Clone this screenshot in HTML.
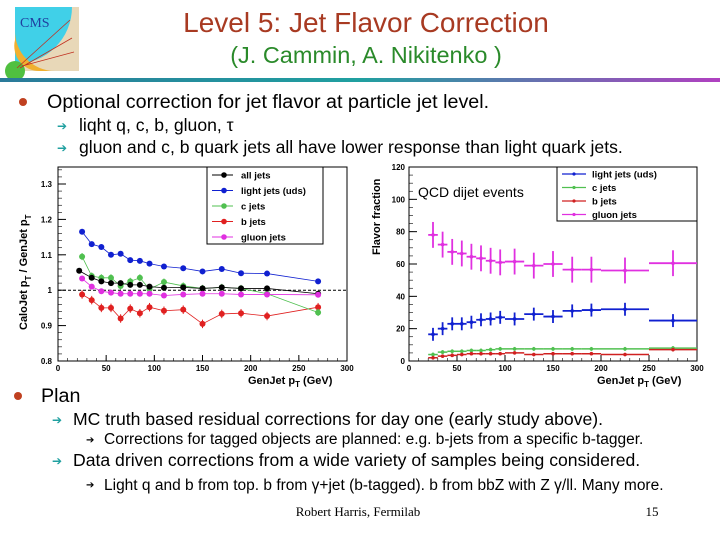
<!DOCTYPE html>
<html><head><meta charset="utf-8"><style>
body{margin:0;width:720px;height:540px;background:#fff;overflow:hidden;font-family:"Liberation Sans",sans-serif}
svg{position:absolute;left:0;top:0}
</style></head><body>
<svg width="720" height="540" viewBox="0 0 720 540">
<defs><linearGradient id="hl" x1="0" x2="1"><stop offset="0" stop-color="#2a7a9a"/><stop offset="0.5" stop-color="#20a0a0"/><stop offset="1" stop-color="#b040c0"/></linearGradient></defs>
<g>
<rect x="15" y="7" width="64" height="64" fill="#e8d8b8"/>
<path d="M15 7 H72 A57 57 0 0 1 15 64 Z" fill="#40d0e8"/>
<path d="M15 40 A25 25 0 0 0 40 71 H55 A40 40 0 0 1 15 30 Z" fill="#f0b030"/>
<circle cx="15" cy="71" r="10" fill="#50c040"/>
<text x="20" y="27" font-size="14" fill="#2040a0" font-family="Liberation Serif,serif">CMS</text>
<path d="M17 68 L70 20 M20 68 L72 38 M22 66 L74 52" stroke="#c03020" stroke-width="0.8" fill="none"/>
</g>
<text x="366" y="32" font-size="28" fill="#a83a22" text-anchor="middle">Level 5: Jet Flavor Correction</text>
<text x="366" y="63" font-size="23.5" fill="#2a8a2a" text-anchor="middle">(J. Cammin, A. Nikitenko )</text>
<rect x="0" y="78" width="720" height="4" fill="url(#hl)"/>
<g fill="#000">
<circle cx="23" cy="102" r="4" fill="#c04020"/>
<text x="47" y="108" font-size="19.7">Optional correction for jet flavor at particle jet level.</text>
<text x="57" y="130" font-size="12" fill="#20a0a0">➔</text>
<text x="79" y="131" font-size="17.6">liqht q, c, b, gluon, τ</text>
<text x="57" y="152" font-size="12" fill="#20a0a0">➔</text>
<text x="79" y="153" font-size="17.6">gluon and c, b quark jets all have lower response than light quark jets.</text>
</g>
<g id="left"></g>
<g id="right"></g>
<g fill="#000">
<circle cx="18" cy="396" r="4" fill="#c04020"/>
<text x="41" y="402" font-size="19.7">Plan</text>
<text x="52" y="424" font-size="12" fill="#20a0a0">➔</text>
<text x="73" y="425" font-size="17.6">MC truth based residual corrections for day one (early study above).</text>
<text x="86" y="443" font-size="10">➔</text>
<text x="104" y="444" font-size="15.5">Corrections for tagged objects are planned: e.g. b-jets from a specific b-tagger.</text>
<text x="52" y="465" font-size="12" fill="#20a0a0">➔</text>
<text x="73" y="466" font-size="17.6">Data driven corrections from a wide variety of samples being considered.</text>
<text x="86" y="488" font-size="10">➔</text>
<text x="104" y="490" font-size="15.5">Light q and b from top.  b from γ+jet (b-tagged).  b from bbZ with Z γ/ll. Many more.</text>
<text x="358" y="516" font-size="13" font-family="Liberation Serif,serif" text-anchor="middle">Robert Harris, Fermilab</text>
<text x="652" y="516" font-size="13" font-family="Liberation Serif,serif" text-anchor="middle">15</text>
</g>
</svg>
<script>
const NS="http://www.w3.org/2000/svg";
// left chart data
const leftXTicks=[0,50,100,150,200,250,300];
const leftYTicks=[0.8,0.9,1,1.1,1.2,1.3];
const allX=[22,35,45,55,65,75,85,95,110,130,150,170,190,217,270];
const allY=[1.055,1.035,1.025,1.02,1.02,1.015,1.015,1.01,1.007,1.008,1.005,1.008,1.005,1.005,0.99];
const flX=[25,35,45,55,65,75,85,95,110,130,150,170,190,217,270];
const lightY=[1.165,1.13,1.122,1.1,1.103,1.085,1.083,1.075,1.067,1.062,1.053,1.06,1.048,1.047,1.025];
const cY=[1.095,1.04,1.035,1.035,1.012,1.025,1.035,1.003,1.023,1.012,1.005,1.008,1.005,0.99,0.937];
const bY=[0.988,0.972,0.95,0.95,0.92,0.948,0.935,0.952,0.942,0.945,0.905,0.933,0.935,0.927,0.952];
const gY=[1.033,1.01,0.997,0.993,0.99,0.99,0.99,0.99,0.985,0.988,0.99,0.99,0.988,0.988,0.987];
// right chart data
const binLo=[20,30,40,50,60,70,80,90,100,120,140,160,180,200,250];
const binHi=[30,40,50,60,70,80,90,100,120,140,160,180,200,250,300];
const gFrac=[78,72,67.5,66.5,64.5,63.5,62,61,61.5,59,60,56.5,56.5,56,60.5];
const lFrac=[16.5,20,23,23,24,25.5,26,27,26,29,27.5,31,31.5,32,25];
const cFrac=[4,5.5,6,6,6.5,6.5,7,7.5,7.5,7.5,7.5,7.5,7.5,7.5,8];
const bFrac=[2,3,3.5,4,4.5,4.5,4.5,4.5,5,4,4.5,4.5,4.5,4,7];
const rightXTicks=[0,50,100,150,200,250,300];
const rightYTicks=[0,20,40,60,80,100,120];

function mk(p,tag,a){const e=document.createElementNS(NS,tag);for(const k in a)e.setAttribute(k,a[k]);p.appendChild(e);return e;}
function txt(p,x,y,s,a){const t=mk(p,'text',Object.assign({x:x,y:y,'font-size':9,'font-weight':'bold'},a||{}));t.textContent=s;return t;}

// LEFT
const L=document.getElementById('left');
const lx=v=>58+v/300*289, ly=v=>361-(v-0.8)/0.5*177;
mk(L,'rect',{x:58,y:167,width:289,height:194,fill:'none',stroke:'#000','stroke-width':1});
leftXTicks.forEach(v=>{const t=txt(L,lx(v),371,String(v),{'text-anchor':'middle','font-size':8});mk(L,'line',{x1:lx(v),x2:lx(v),y1:361,y2:355,stroke:'#000'});});
for(let v=0;v<=300;v+=10)mk(L,'line',{x1:lx(v),x2:lx(v),y1:361,y2:358,stroke:'#000','stroke-width':0.6});
leftYTicks.forEach(v=>{const t=txt(L,52,ly(v)+3,String(v),{'text-anchor':'end','font-size':8});mk(L,'line',{x1:58,x2:66,y1:ly(v),y2:ly(v),stroke:'#000'});});
for(let v=0.8;v<=1.35;v+=0.02)mk(L,'line',{x1:58,x2:62,y1:ly(v),y2:ly(v),stroke:'#000','stroke-width':0.6});
mk(L,'line',{x1:58,x2:347,y1:ly(1),y2:ly(1),stroke:'#000','stroke-dasharray':'3,2'});
let t=txt(L,0,0,'CaloJet p',{'font-size':11,transform:'translate(27,330) rotate(-90)'});
const s1=document.createElementNS(NS,'tspan');s1.textContent='T';s1.setAttribute('dy','4');s1.setAttribute('font-size','8');t.appendChild(s1);
const s2=document.createElementNS(NS,'tspan');s2.textContent=' / GenJet p';s2.setAttribute('dy','-4');t.appendChild(s2);
const s3=document.createElementNS(NS,'tspan');s3.textContent='T';s3.setAttribute('dy','4');s3.setAttribute('font-size','8');t.appendChild(s3);

t=txt(L,248,384,'GenJet p',{'font-size':11});const s4=document.createElementNS(NS,'tspan');s4.textContent='T';s4.setAttribute('dy','3');s4.setAttribute('font-size','8');t.appendChild(s4);const s5=document.createElementNS(NS,'tspan');s5.textContent=' (GeV)';s5.setAttribute('dy','-3');t.appendChild(s5);

function lseries(xs,ys,col,err,line,name){
  const g=mk(L,'g',{});
  
  
  if(line)mk(g,'polyline',{points:xs.map((x,i)=>lx(x)+','+ly(ys[i])).join(' '),fill:'none',stroke:col,'stroke-width':0.8});
  xs.forEach((x,i)=>{mk(g,'line',{x1:lx(x),x2:lx(x),y1:ly(ys[i]-err),y2:ly(ys[i]+err),stroke:col});mk(g,'circle',{cx:lx(x),cy:ly(ys[i]),r:3,fill:col});});
}
lseries(flX,bY,'#e02020',0.012,true,'series-b-jets');
lseries(flX,cY,'#50c050',0.01,true,'series-c-jets');
lseries(allX,allY,'#000',0.004,true,'series-all-jets');
lseries(flX,lightY,'#1020d0',0.005,true,'series-light-jets');
lseries(flX,gY,'#e030e0',0.004,true,'series-gluon-jets');
const lg=mk(L,'g',{});
mk(lg,'rect',{x:207,y:167,width:116,height:77,fill:'#fff',stroke:'#000'});
[['all jets','#000'],['light jets (uds)','#1020d0'],['c jets','#50c050'],['b jets','#e02020'],['gluon jets','#e030e0']].forEach((e,i)=>{const y=175+i*15.5;mk(lg,'line',{x1:212,x2:233,y1:y,y2:y,stroke:e[1]});mk(lg,'circle',{cx:224,cy:y,r:2.8,fill:e[1]});const tt=txt(lg,241,y+3.5,e[0],{'font-size':9.5});});

// RIGHT
const R=document.getElementById('right');
const rx=v=>409+v/300*288, ry=v=>361-v/120*194;
mk(R,'rect',{x:409,y:167,width:288,height:194,fill:'none',stroke:'#000'});
rightXTicks.forEach(v=>{const t=txt(R,rx(v),371,String(v),{'text-anchor':'middle','font-size':8});mk(R,'line',{x1:rx(v),x2:rx(v),y1:361,y2:355,stroke:'#000'});});
for(let v=0;v<=300;v+=10)mk(R,'line',{x1:rx(v),x2:rx(v),y1:361,y2:358,stroke:'#000','stroke-width':0.6});
rightYTicks.forEach(v=>{const t=txt(R,405,ry(v)+3,String(v),{'text-anchor':'end','font-size':8});mk(R,'line',{x1:409,x2:417,y1:ry(v),y2:ry(v),stroke:'#000'});});
for(let v=0;v<=120;v+=5)mk(R,'line',{x1:409,x2:413,y1:ry(v),y2:ry(v),stroke:'#000','stroke-width':0.6});
t=txt(R,0,0,'Flavor fraction',{'font-size':11,transform:'translate(380,255) rotate(-90)'});
t=txt(R,597,384,'GenJet p',{'font-size':11});const s6=document.createElementNS(NS,'tspan');s6.textContent='T';s6.setAttribute('dy','3');s6.setAttribute('font-size','8');t.appendChild(s6);const s7=document.createElementNS(NS,'tspan');s7.textContent=' (GeV)';s7.setAttribute('dy','-3');t.appendChild(s7);

t=txt(R,418,197,'QCD dijet events',{'font-size':14,'font-weight':'normal'});
function rseries(ys,col,err,w,name){
  const g=mk(R,'g',{});
  
  
  ys.forEach((v,i)=>{const c=(binLo[i]+binHi[i])/2;mk(g,'line',{x1:rx(binLo[i]),x2:rx(binHi[i]),y1:ry(v),y2:ry(v),stroke:col,'stroke-width':w});mk(g,'line',{x1:rx(c),x2:rx(c),y1:ry(v-err),y2:ry(v+err),stroke:col,'stroke-width':w});mk(g,'circle',{cx:rx(c),cy:ry(v),r:1.8,fill:col});});
}
rseries(gFrac,'#e030e0',8,1.8,'series-gluon-fraction');
rseries(lFrac,'#1020d0',4,1.8,'series-light-fraction');
rseries(cFrac,'#50c050',1.2,1.5,'series-c-fraction');
rseries(bFrac,'#d02020',1,1.5,'series-b-fraction');
const rg=mk(R,'g',{});
mk(rg,'rect',{x:557,y:167,width:140,height:54,fill:'#fff',stroke:'#000'});
[['light jets (uds)','#1020d0'],['c jets','#50c050'],['b jets','#d02020'],['gluon jets','#e030e0']].forEach((e,i)=>{const y=174+i*13.5;mk(rg,'line',{x1:562,x2:586,y1:y,y2:y,stroke:e[1],'stroke-width':1.2});mk(rg,'circle',{cx:574,cy:y,r:1.6,fill:e[1]});const tt=txt(rg,592,y+3.5,e[0],{'font-size':9.5});});
</script>
</body></html>
